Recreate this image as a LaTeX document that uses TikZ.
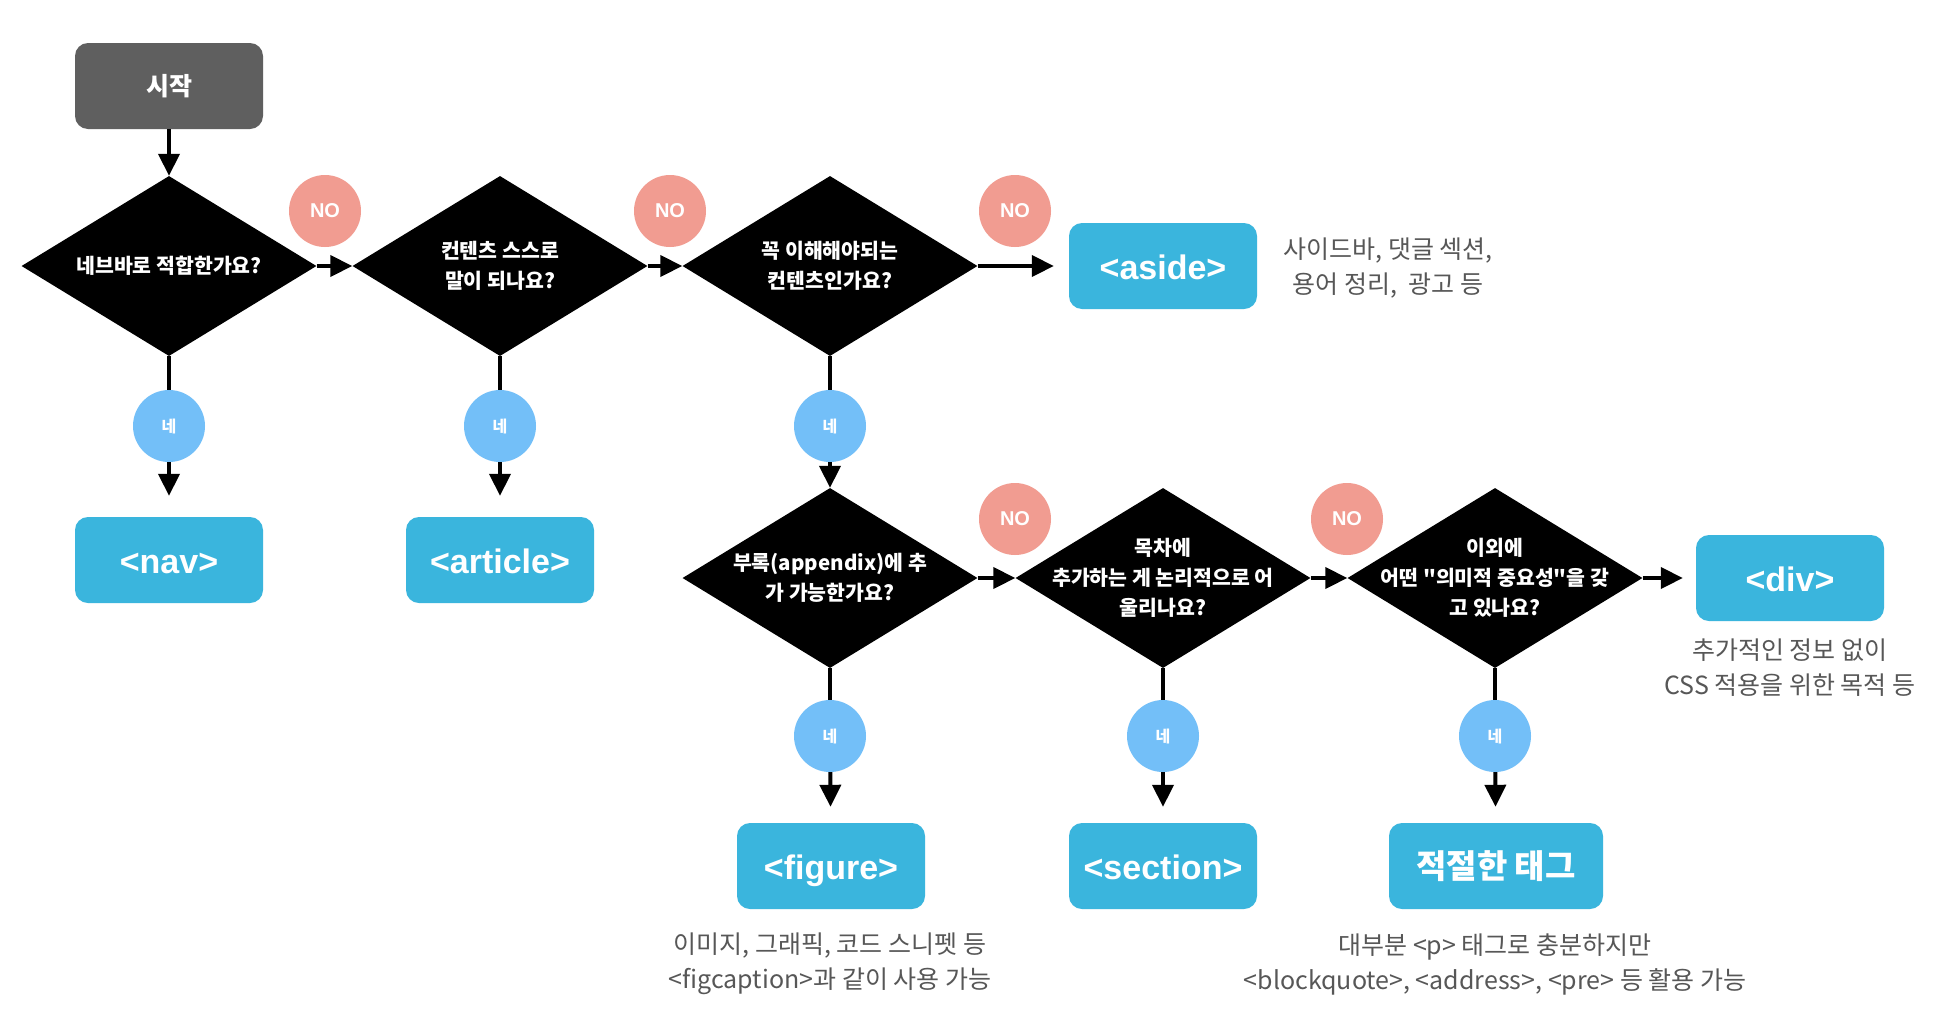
\documentclass[tikz,border=0pt]{standalone}
\usepackage{fontspec}
\setmainfont{Liberation Sans}
\newfontfamily\kr{Noto Sans CJK KR}
\usetikzlibrary{shapes.geometric,arrows.meta}
\definecolor{startgray}{HTML}{5F5F5F}
\definecolor{tagblue}{HTML}{3AB5DD}
\definecolor{nored}{HTML}{F19C91}
\definecolor{yesblue}{HTML}{73BFF8}
\definecolor{desc}{HTML}{575757}
\begin{document}
\begin{tikzpicture}[x=1pt,y=-1pt,
 dia/.style={diamond, fill=black, minimum width=295pt, minimum height=180pt, inner sep=0pt},
 dtext/.style={text=white, font=\kr\bfseries\fontsize{20.5}{30}\selectfont, align=center},
 tagbox/.style={rectangle, rounded corners=13pt, fill=tagblue, minimum width=188pt, minimum height=86pt, text=white, font=\bfseries\fontsize{34}{34}\selectfont, text height=30pt, text depth=3pt},
 startbox/.style={rectangle, rounded corners=13pt, fill=startgray, minimum width=188pt, minimum height=86pt, text=white, font=\kr\bfseries\fontsize{25}{25}\selectfont},
 nocirc/.style={circle, fill=nored, minimum size=72pt, inner sep=0pt, text=white, font=\bfseries\fontsize{20}{20}\selectfont},
 yescirc/.style={circle, fill=yesblue, minimum size=72pt, inner sep=0pt, text=white, font=\kr\bfseries\fontsize{16}{16}\selectfont},
 desctext/.style={text=desc, font=\kr\fontsize{25}{35}\selectfont, align=center},
 arr/.style={line width=4pt, -{Triangle[width=21pt,length=22pt]}},
 ln/.style={line width=4pt}]
\useasboundingbox[fill=white] (0,0) rectangle (1946,1026);

% start
\node[startbox] (start) at (169,86) {시작};

% diamonds
\node[dia] (d1) at (169,266) {};
\node[dia] (d2) at (500,266) {};
\node[dia] (d3) at (830,266) {};
\node[dia] (d4) at (830,578) {};
\node[dia] (d5) at (1163,578) {};
\node[dia] (d6) at (1495,578) {};

\node[dtext] (t1) at (d1) {네브바로 적합한가요?};
\node[dtext] (t2) at (d2) {컨텐츠 스스로\\말이 되나요?};
\node[dtext] (t3) at (d3) {꼭 이해해야되는\\컨텐츠인가요?};
\node[dtext] (t4) at (d4) {부록(appendix)에 추\\가 가능한가요?};
\node[dtext] (t5) at (d5) {목차에\\추가하는 게 논리적으로 어\\울리나요?};
\node[dtext] (t6) at (d6) {이외에\\어떤 "의미적 중요성"을 갖\\고 있나요?};

% tag boxes
\node[tagbox] (aside) at (1163,266) {<aside>};
\node[tagbox] (nav) at (169,560) {<nav>};
\node[tagbox] (article) at (500,560) {<article>};
\node[tagbox] (div) at (1790,578) {<div>};
\node[tagbox] (figure) at (831,866) {<figure>};
\node[tagbox] (section) at (1163,866) {<section>};
\node[rectangle, rounded corners=13pt, fill=tagblue, minimum width=214pt, minimum height=86pt, text=white, font=\kr\bfseries\fontsize{33}{33}\selectfont] (proper) at (1496,866) {적절한 태그};

% descriptions
\node[desctext] (asidedesc) at (1388,268) {사이드바, 댓글 섹션,\\용어 정리,\ \ 광고 등};
\node[desctext] (divdesc) at (1790,668) {추가적인 정보 없이\\CSS 적용을 위한 목적 등};
\node[desctext] (figdesc) at (830,964) {이미지, 그래픽, 코드 스니펫 등\\<figcaption>과 같이 사용 가능};
\node[desctext] (pdesc) at (1495,964) {대부분 <p> 태그로 충분하지만\\<blockquote>, <address>, <pre> 등 활용 가능};

% yes circles positions
\coordinate (y1p) at (169,426);
\coordinate (y2p) at (500,426);
\coordinate (y3p) at (830,426);
\coordinate (y4p) at (830,736);
\coordinate (y5p) at (1163,736);
\coordinate (y6p) at (1495,736);

% connectors
\draw[arr] (start) -- (d1);
\draw[arr] (d1) -- (d2);
\draw[arr] (d2) -- (d3);
\draw[arr, shorten >=15pt] (d3) -- (aside);
\draw[arr] (d4) -- (d5);
\draw[arr] (d5) -- (d6);
\draw[arr, shorten >=13pt] (d6) -- (div);

\draw[ln] (d1.south) -- (y1p);
\draw[arr, shorten >=21pt] (y1p) -- (nav);
\draw[ln] (d2.south) -- (y2p);
\draw[arr, shorten >=21pt] (y2p) -- (article);
\draw[ln] (d3.south) -- (y3p);
\draw[arr] (y3p) -- (d4.north);
\draw[ln] (d4.south) -- (y4p);
\draw[arr, shorten >=16pt] (y4p) -- (figure);
\draw[ln] (d5.south) -- (y5p);
\draw[arr, shorten >=16pt] (y5p) -- (section);
\draw[ln] (d6.south) -- (y6p);
\draw[arr, shorten >=16pt] (y6p) -- (proper);

% yes circles
\node[yescirc] (y1) at (y1p) {네};
\node[yescirc] (y2) at (y2p) {네};
\node[yescirc] (y3) at (y3p) {네};
\node[yescirc] (y4) at (y4p) {네};
\node[yescirc] (y5) at (y5p) {네};
\node[yescirc] (y6) at (y6p) {네};

% no circles
\node[nocirc] (n1) at (325,211) {NO};
\node[nocirc] (n2) at (670,211) {NO};
\node[nocirc] (n3) at (1015,211) {NO};
\node[nocirc] (n4) at (1015,519) {NO};
\node[nocirc] (n5) at (1347,519) {NO};
\end{tikzpicture}
\end{document}
